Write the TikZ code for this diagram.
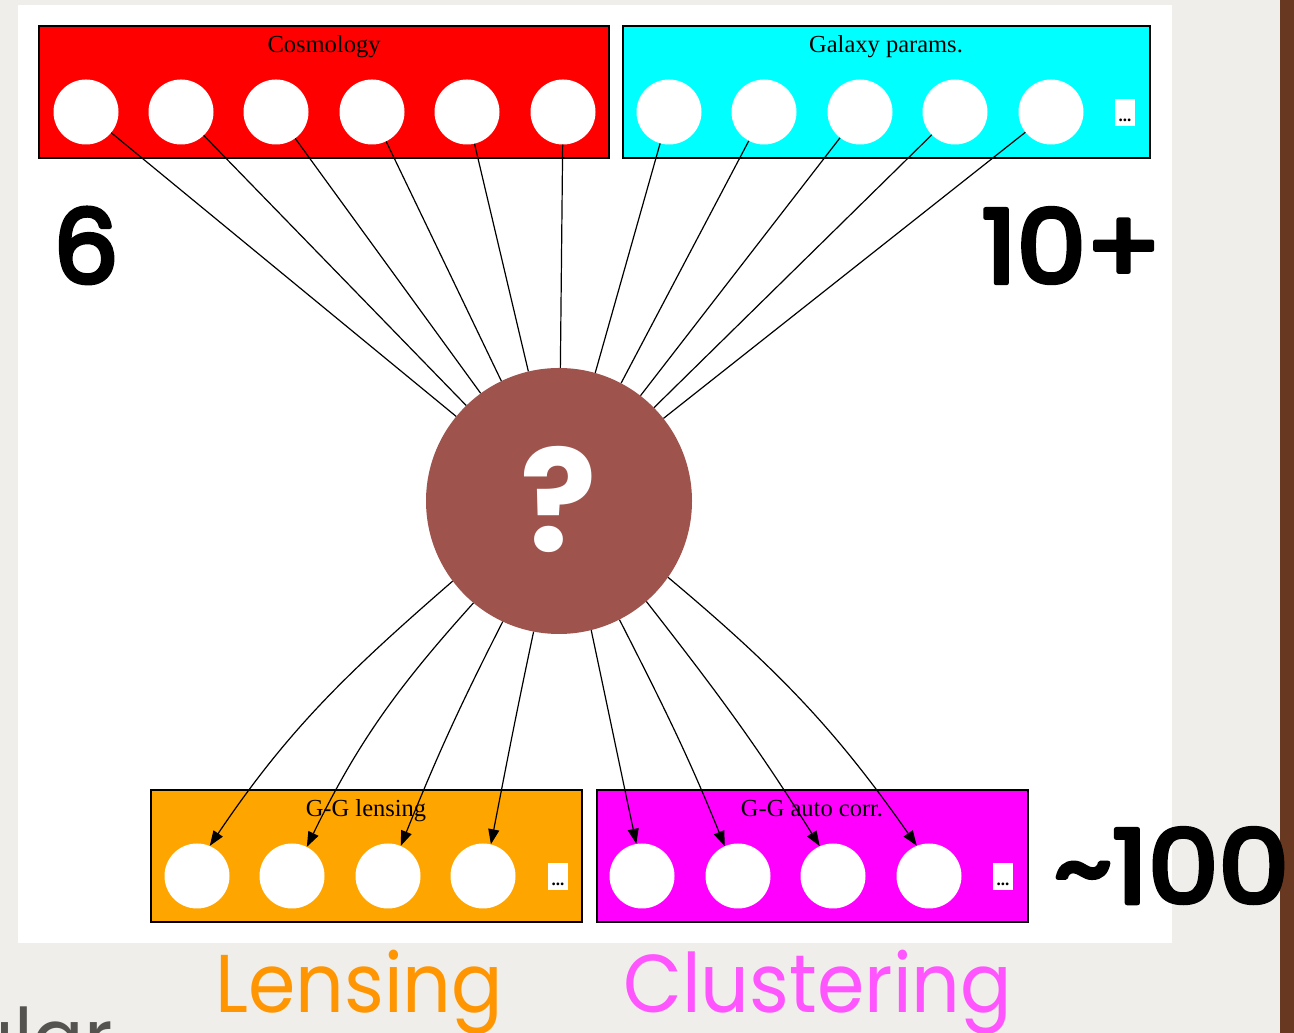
\documentclass[tikz,border=0pt]{standalone}
\usepackage{fontspec}
\setmainfont{Liberation Serif}
\newfontfamily\numfont{Poppins}
\newcommand\heavytext[1]{\special{pdf:literal direct 2 Tr 4.5 w 1 j}#1\special{pdf:literal direct 0 Tr}}
\usetikzlibrary{arrows.meta}
\definecolor{bgc}{RGB}{239,238,234}
\definecolor{barc}{RGB}{105,56,32}
\definecolor{qcol}{RGB}{158,83,77}
\definecolor{lensc}{RGB}{255,149,0}
\definecolor{clusc}{RGB}{255,85,255}
\definecolor{ularc}{RGB}{85,83,80}
\definecolor{boxred}{RGB}{255,0,0}
\definecolor{boxcyan}{RGB}{0,255,255}
\definecolor{boxorange}{RGB}{255,165,0}
\definecolor{boxmag}{RGB}{255,0,255}
\tikzset{
  grp/.style={draw=black, line width=1.3pt},
  ball/.style={circle, fill=white, minimum size=65pt, inner sep=0pt},
  ttl/.style={anchor=base, font=\fontsize{24.5}{28}\selectfont},
  more/.style={fill=white, inner sep=0pt, minimum width=20pt, minimum height=27pt, text height=19pt, text depth=0pt, font=\bfseries\fontsize{17}{18}\selectfont},
  edge/.style={line width=1.2pt, black},
  arr/.style={line width=1.2pt, black, -{Triangle[length=15pt,width=11pt]}},
  big/.style={anchor=base, font=\numfont\fontsize{102}{110}\selectfont},
  word/.style={anchor=base west, font=\numfont\fontsize{82}{90}\selectfont}
}
\begin{document}
\begin{tikzpicture}[x=1pt,y=1pt]
\useasboundingbox (0,0) rectangle (1294,1033);
\fill[bgc] (0,0) rectangle (1294,1033);
\fill[barc] (1280,0) rectangle (1294,1033);
\fill[white] (18,90) rectangle (1172,1028);
% groups
\filldraw[grp, fill=boxred] (39,875) rectangle (609,1007);
\filldraw[grp, fill=boxcyan] (623,875) rectangle (1150,1007);
\filldraw[grp, fill=boxorange] (151,111) rectangle (582,243);
\filldraw[grp, fill=boxmag] (597,111) rectangle (1028,243);
\node[ttl] (tcos) at (324,980) {Cosmology};
\node[ttl] (tgal) at (886,980) {Galaxy params.};
\node[ttl] (tlen) at (366,216) {G-G lensing};
\node[ttl] (tgg) at (812,216) {G-G auto corr.};
% top balls
\foreach \i/\x in {1/86,2/181,3/276,4/372,5/467,6/563} \node[ball] (c\i) at (\x,921) {};
\foreach \i/\x in {1/669,2/764,3/860,4/955,5/1051} \node[ball] (g\i) at (\x,921) {};
\node[more] (gmore) at (1125,920.5) {...};
% bottom balls
\foreach \i/\x in {1/197,2/292,3/388,4/483} \node[ball] (l\i) at (\x,157) {};
\foreach \i/\x in {1/642,2/738,3/833,4/929} \node[ball] (m\i) at (\x,157) {};
\node[more] (lmore) at (558,156.5) {...};
\node[more] (mmore) at (1003,156.5) {...};
% centre
\node[circle, fill=qcol, minimum size=266pt, inner sep=0pt] (Q) at (559,532) {};
\node[anchor=base, text=white, font=\numfont\bfseries\fontsize{142}{150}\selectfont] (qm) at (559,481) {?};
% top edges
\foreach \i in {1,...,6} \draw[edge] (c\i) -- (Q);
\foreach \i in {1,...,5} \draw[edge] (g\i) -- (Q);
% bottom edges
\draw[arr] (Q.217) to[out=221,in=56] (l1.67);
\draw[arr] (Q.230.5) to[out=228,in=64] (l2.63);
\draw[arr] (Q.245) to[out=243,in=68] (l3.67.5);
\draw[arr] (Q.259) to[out=258,in=79] (l4.76);
\draw[arr] (Q.284) to[out=282,in=102] (m1.100);
\draw[arr] (Q.297) to[out=297,in=112] (m2.114);
\draw[arr] (Q.311) to[out=308,in=122] (m3.114);
\draw[arr] (Q.325) to[out=320,in=125] (m4.112);
% counts
\node[big] (n6) at (86,750) {\heavytext{6}};
\node[big, anchor=base east, xscale=1.08] (n10) at (1165,750) {\heavytext{10+}};
\node[big, anchor=base west, xscale=1.1] (n100) at (1050,130) {\heavytext{\textasciitilde100}};
% bottom words
\node[word, text=lensc, xscale=0.93] (wl) at (212,20) {Lensing};
\node[word, text=clusc, xscale=0.93] (wc) at (620,20) {Clustering};
\node[word, text=ularc, xscale=0.93] (wu) at (-38,-35) {ular};
\end{tikzpicture}
\end{document}
